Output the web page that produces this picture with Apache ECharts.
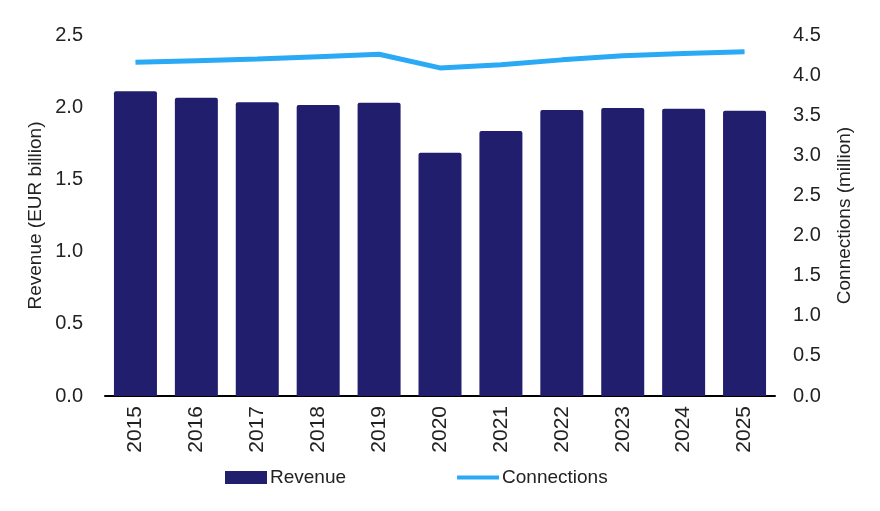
<!DOCTYPE html>
<html><head><meta charset="utf-8">
<script src="https://cdn.jsdelivr.net/npm/echarts@6/dist/echarts.min.js"></script>
<style>html,body{margin:0;padding:0;background:#fff}#c{width:880px;height:511px}</style>
</head><body><div id="c"></div>
<script>
const years = ['2015','2016','2017','2018','2019','2020','2021','2022','2023','2024','2025'];
const revenue = [2.11, 2.065, 2.035, 2.015, 2.03, 1.685, 1.835, 1.98, 1.995, 1.99, 1.975];
const connections = [4.16, 4.18, 4.20, 4.23, 4.26, 4.09, 4.13, 4.19, 4.24, 4.27, 4.29];
const font = 'Liberation Sans';
const chart = echarts.init(document.getElementById('c'), null, {renderer:'canvas'});
chart.setOption({
  animation:false,
  textStyle:{fontFamily:font},
  grid:{left:105,right:105,top:35,bottom:115,containLabel:false},
  legend:{
    left:220, top:463, itemGap:111, itemWidth:42, itemHeight:13,
    textStyle:{fontFamily:font,fontSize:19,color:'#222',padding:[0,0,0,-2]},
    data:[{name:'Revenue',icon:'rect'},{name:'Connections',icon:'path://M0,0 L10,0 L10,1 L0,1 Z'}]
  },
  xAxis:{
    type:'category', data:years,
    axisLine:{lineStyle:{color:'#000',width:2}},
    axisTick:{show:false},
    axisLabel:{rotate:90,fontSize:21,color:'#222',margin:10,fontFamily:font}
  },
  yAxis:[
    {type:'value',min:0,max:2.5,interval:0.5,
     name:'Revenue (EUR billion)',nameLocation:'middle',nameGap:60,nameMoveOverlap:false,
     nameTextStyle:{fontSize:19,color:'#222',fontFamily:font},
     splitLine:{show:false},axisLine:{show:false},axisTick:{show:false},
     axisLabel:{fontSize:20,color:'#222',margin:22,formatter:v=>v.toFixed(1),fontFamily:font}},
    {type:'value',min:0,max:4.5,interval:0.5,
     name:'Connections (million)',nameLocation:'middle',nameGap:60,nameRotate:90,
     nameTextStyle:{fontSize:19,color:'#222',fontFamily:font},
     splitLine:{show:false},axisLine:{show:false},axisTick:{show:false},
     axisLabel:{fontSize:20,color:'#222',margin:18,formatter:v=>v.toFixed(1),fontFamily:font}}
  ],
  series:[
    {name:'Revenue',type:'bar',data:revenue,barWidth:43,yAxisIndex:0,
     itemStyle:{color:'#221e6e',borderRadius:[2,2,0,0]}},
    {name:'Connections',type:'line',data:connections,yAxisIndex:1,
     symbol:'none',lineStyle:{color:'#2aaaf5',width:5},itemStyle:{color:'#2aaaf5'}}
  ]
});
</script></body></html>
